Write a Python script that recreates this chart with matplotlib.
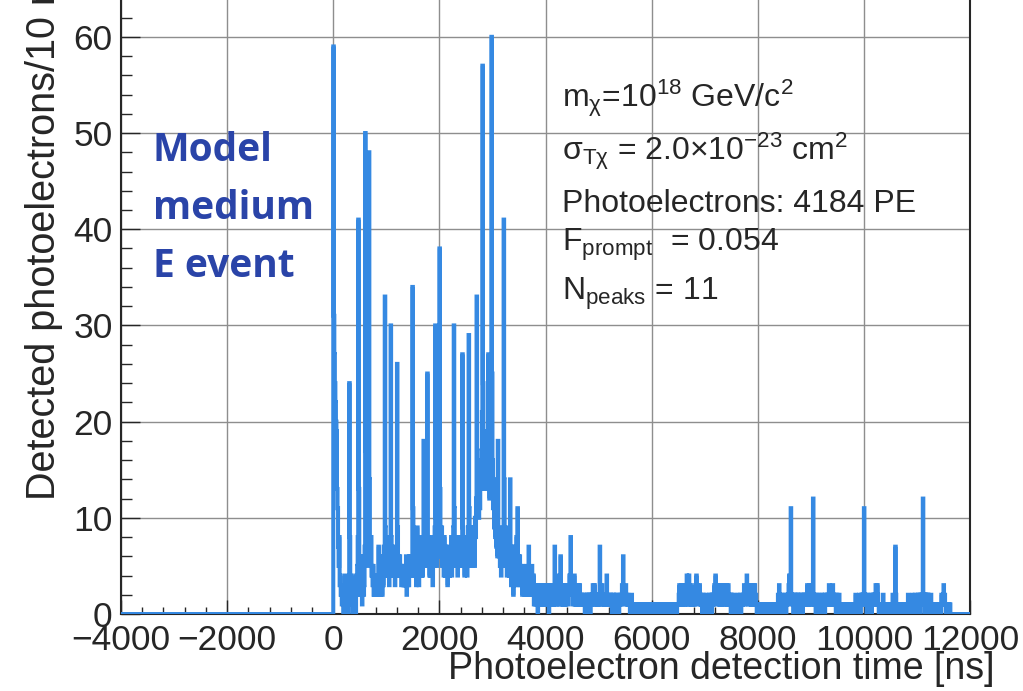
import numpy as np
import matplotlib
matplotlib.use("Agg")
import matplotlib.pyplot as plt
from matplotlib.ticker import MultipleLocator

# Detected photoelectrons per 10 ns bin, starting at t = 0 ns (one line = 100 ns)
early_counts = [
    59, 31, 27, 24, 22, 20, 19, 13, 11, 7,
    5, 8, 3, 4, 2, 3, 1, 3, 2, 0,
    2, 1, 4, 0, 2, 3, 1, 2, 0, 1,
    24, 8, 3, 2, 4, 1, 2, 0, 2, 3,
    1, 2, 0, 4, 2, 5, 8, 41, 13, 5,
    3, 6, 2, 4, 1, 3, 5, 2, 3, 7,
    50, 17, 10, 7, 12, 5, 9, 48, 14, 8,
    6, 8, 4, 5, 3, 5, 2, 3, 2, 2,
    2, 4, 2, 3, 4, 7, 2, 4, 2, 2,
    3, 6, 2, 5, 3, 7, 4, 33, 9, 5,
]

# 1000 - 3390 ns
mid_counts = [
    6, 4, 8, 5, 7, 3, 8, 4, 30, 8,
    5, 7, 4, 6, 4, 6, 3, 6, 4, 7,
    26, 9, 5, 6, 4, 6, 4, 5, 3, 3,
    5, 3, 5, 3, 4, 3, 4, 6, 2, 4,
    3, 5, 3, 5, 6, 4, 6, 4, 5, 34,
    11, 6, 4, 7, 4, 6, 3, 5, 9, 4,
    5, 3, 5, 8, 4, 6, 4, 7, 4, 6,
    18, 6, 7, 5, 6, 9, 5, 25, 8, 6,
    7, 4, 6, 4, 8, 5, 6, 3, 6, 5,
    6, 9, 30, 10, 8, 5, 9, 6, 10, 8,
    38, 13, 9, 6, 9, 5, 8, 7, 4, 8,
    5, 4, 7, 5, 6, 3, 7, 4, 5, 4,
    6, 5, 8, 4, 7, 6, 9, 30, 11, 6,
    7, 5, 6, 8, 4, 6, 7, 5, 8, 5,
    6, 8, 5, 27, 9, 6, 7, 4, 7, 6,
    8, 6, 4, 7, 9, 29, 11, 7, 5, 9,
    6, 8, 5, 9, 7, 8, 5, 10, 8, 12,
    33, 16, 12, 14, 10, 13, 11, 15, 13, 17,
    21, 57, 24, 16, 19, 13, 18, 14, 19, 14,
    15, 19, 27, 16, 12, 18, 13, 16, 60, 25,
    16, 11, 14, 9, 13, 8, 12, 7, 10, 6,
    18, 8, 6, 9, 5, 8, 4, 7, 5, 6,
    6, 41, 14, 8, 5, 9, 6, 4, 7, 5,
    8, 4, 6, 14, 5, 3, 7, 4, 6, 2,
]

# 3400 - 11690 ns
late_counts = [
    6, 4, 7, 3, 5, 8, 4, 11, 6, 3,
    5, 6, 3, 5, 4, 4, 2, 5, 3, 4,
    4, 2, 4, 3, 5, 2, 3, 2, 7, 4,
    3, 4, 2, 3, 5, 2, 2, 4, 1, 3,
    3, 1, 3, 2, 2, 0, 3, 1, 3, 1,
    2, 3, 1, 3, 1, 2, 1, 3, 1, 3,
    1, 2, 1, 3, 2, 3, 0, 2, 1, 3,
    2, 1, 3, 1, 2, 1, 3, 7, 2, 1,
    3, 1, 2, 4, 2, 3, 2, 1, 6, 2,
    1, 3, 2, 1, 3, 1, 2, 3, 1, 2,
    3, 2, 1, 3, 2, 4, 2, 8, 3, 2,
    3, 1, 3, 2, 4, 1, 2, 3, 1, 2,
    1, 3, 2, 1, 3, 1, 2, 1, 2, 1,
    1, 1, 2, 1, 0, 2, 1, 0, 2, 1,
    1, 2, 1, 2, 0, 2, 1, 1, 2, 3,
    2, 1, 3, 2, 1, 1, 2, 1, 1, 2,
    1, 2, 7, 3, 2, 1, 3, 2, 1, 1,
    2, 1, 1, 2, 1, 4, 2, 1, 1, 2,
    1, 1, 2, 1, 1, 0, 2, 1, 2, 1,
    1, 1, 0, 2, 1, 2, 1, 1, 0, 1,
    1, 2, 1, 2, 3, 2, 6, 2, 2, 1,
    2, 3, 2, 1, 1, 2, 1, 1, 1, 0,
    1, 1, 2, 1, 0, 1, 1, 1, 1, 0,
    1, 1, 0, 1, 1, 1, 0, 1, 1, 0,
    0, 1, 1, 0, 1, 1, 1, 0, 1, 1,
    1, 0, 1, 1, 0, 1, 1, 1, 0, 1,
    1, 1, 0, 1, 1, 1, 0, 1, 1, 1,
    0, 1, 1, 1, 0, 1, 1, 1, 0, 1,
    1, 1, 0, 1, 1, 1, 1, 0, 1, 1,
    1, 0, 1, 1, 0, 1, 1, 1, 0, 1,
    1, 1, 1, 0, 1, 1, 1, 0, 1, 1,
    1, 2, 3, 1, 2, 1, 3, 2, 1, 2,
    3, 1, 2, 3, 1, 2, 4, 2, 1, 2,
    4, 2, 1, 3, 2, 1, 2, 1, 2, 1,
    2, 1, 3, 2, 4, 2, 3, 2, 1, 2,
    3, 2, 1, 2, 1, 0, 1, 2, 1, 0,
    1, 0, 2, 1, 0, 1, 1, 0, 2, 1,
    1, 2, 1, 0, 2, 1, 2, 1, 3, 2,
    4, 2, 3, 2, 1, 3, 2, 1, 2, 1,
    2, 3, 1, 2, 3, 2, 1, 3, 2, 1,
    3, 2, 1, 2, 3, 1, 2, 1, 2, 0,
    1, 2, 1, 0, 1, 2, 1, 0, 1, 1,
    0, 1, 2, 1, 0, 1, 2, 1, 0, 1,
    1, 2, 1, 2, 3, 2, 1, 2, 3, 4,
    2, 3, 1, 2, 3, 2, 1, 2, 1, 2,
    2, 1, 3, 2, 3, 1, 2, 1, 0, 1,
    1, 0, 1, 0, 0, 1, 0, 1, 0, 0,
    1, 0, 0, 1, 0, 1, 0, 0, 1, 0,
    0, 1, 0, 0, 1, 0, 1, 0, 0, 1,
    1, 0, 1, 0, 0, 1, 1, 0, 2, 1,
    3, 1, 2, 1, 0, 1, 2, 1, 0, 1,
    1, 2, 1, 0, 1, 2, 1, 2, 3, 4,
    2, 3, 11, 2, 1, 2, 1, 0, 2, 1,
    1, 2, 1, 0, 2, 1, 2, 1, 0, 1,
    2, 1, 2, 1, 0, 1, 2, 1, 2, 1,
    2, 1, 2, 3, 1, 2, 1, 2, 3, 1,
    2, 1, 3, 2, 12, 2, 1, 2, 1, 0,
    1, 2, 1, 0, 1, 2, 1, 1, 0, 1,
    2, 1, 0, 1, 2, 1, 0, 2, 1, 1,
    1, 2, 1, 2, 3, 1, 2, 1, 2, 1,
    2, 3, 1, 2, 1, 2, 1, 0, 1, 2,
    1, 0, 1, 2, 1, 0, 1, 1, 0, 1,
    1, 0, 0, 1, 0, 1, 0, 0, 1, 0,
    1, 0, 1, 0, 0, 1, 0, 0, 1, 0,
    1, 1, 0, 1, 2, 1, 0, 1, 1, 0,
    1, 2, 1, 0, 1, 2, 1, 2, 1, 2,
    11, 2, 1, 2, 1, 0, 1, 2, 1, 1,
    0, 1, 2, 1, 0, 1, 2, 1, 2, 1,
    2, 1, 3, 2, 1, 3, 2, 1, 0, 1,
    1, 0, 1, 1, 0, 1, 2, 1, 0, 1,
    1, 0, 0, 0, 1, 1, 0, 0, 0, 1,
    1, 1, 0, 1, 2, 1, 0, 1, 2, 7,
    2, 1, 0, 1, 1, 0, 1, 1, 0, 1,
    1, 0, 1, 0, 0, 1, 0, 0, 1, 0,
    1, 0, 1, 2, 1, 0, 1, 1, 0, 1,
    1, 2, 1, 0, 1, 1, 2, 1, 0, 1,
    1, 2, 1, 2, 1, 0, 2, 1, 1, 2,
    1, 12, 2, 1, 0, 2, 1, 2, 1, 2,
    1, 2, 0, 1, 1, 0, 2, 1, 0, 1,
    1, 0, 0, 1, 0, 1, 0, 0, 1, 0,
    1, 0, 1, 1, 0, 1, 2, 1, 1, 2,
    3, 1, 2, 1, 0, 1, 1, 0, 1, 0,
    1, 0, 1, 0, 0, 0, 0, 0, 0, 0,
]

x_ticks = [-4000, -2000, 0, 2000, 4000, 6000, 8000, 10000, 12000]
y_ticks = [0, 10, 20, 30, 40, 50, 60]
event_label = ["Model", "medium", "E event"]

T_MIN, T_MAX, BIN_NS = -4000, 12000, 10
PROMPT_BINS = 9  # 0-90 ns prompt window

plt.rcParams["font.family"] = ["Liberation Sans", "DejaVu Sans"]
plt.rcParams["mathtext.fontset"] = "custom"
plt.rcParams["mathtext.rm"] = "Liberation Sans"
plt.rcParams["mathtext.it"] = "Liberation Sans:italic"
plt.rcParams["mathtext.bf"] = "Liberation Sans:bold"

hits = np.array(early_counts + mid_counts + late_counts, dtype=float)
edges = np.arange(T_MIN, T_MAX + BIN_NS, BIN_NS)
counts = np.zeros(len(edges) - 1)
start = int((0 - T_MIN) / BIN_NS)
counts[start:start + len(hits)] = hits

total_pe = int(hits.sum())
f_prompt = hits[:PROMPT_BINS].sum() / hits.sum()

INK = "#262626"

fig = plt.figure(figsize=(10.23, 6.91), dpi=100)
ax = fig.add_axes([0.1183, 0.1114, 0.8299, 0.891])

ax.stairs(counts, edges, color="#3589E2", lw=2.9, zorder=3)

ax.set_xlim(T_MIN, T_MAX)
ax.set_ylim(0, 64)
ax.set_xticks(x_ticks)
ax.set_yticks(y_ticks)
ax.xaxis.set_minor_locator(MultipleLocator(400))
ax.yaxis.set_minor_locator(MultipleLocator(2))
ax.grid(True, which="major", color="#8e8e8e", lw=1.0, zorder=1)

ax.tick_params(axis="both", which="both", direction="in", colors=INK,
               labelcolor=INK)
ax.tick_params(axis="y", which="major", length=14, width=1.0, labelsize=25.5, pad=6)
ax.tick_params(axis="y", which="minor", length=8, width=1.0)
ax.tick_params(axis="x", which="major", length=10, width=1.0, labelsize=25.5, pad=7)
ax.tick_params(axis="x", which="minor", length=5, width=1.0)

for side in ["left", "bottom", "right"]:
    ax.spines[side].set_linewidth(1.5)
    ax.spines[side].set_color(INK)
ax.spines["top"].set_visible(False)

ax.set_xlabel("Photoelectron detection time [ns]", fontsize=27, color=INK,
              ha="right", va="center")
ax.xaxis.set_label_coords(1.029, -0.089)
fig.text(44 / 1023, 1 - 500 / 691, "Detected photoelectrons/10 ns", rotation=90,
         fontsize=28.5, color=INK, ha="center", va="bottom")

stats = [
    (107, r"m$_{\mathrm{\chi}}$=10$^{\mathrm{18}}$ GeV/c$^{\mathrm{2}}$"),
    (160, r"$\mathrm{\sigma}_{\mathrm{T\chi}}$ = 2.0$\times$10$^{\mathrm{-23}}$ cm$^{\mathrm{2}}$"),
    (212, f"Photoelectrons: {total_pe} PE"),
    (251, r"F$_{\mathrm{prompt}}$  = " + f"{f_prompt:.3f}"),
    (300, r"N$_{\mathrm{peaks}}$ = 11"),
]
for y_px, txt in stats:
    fig.text(562 / 1023, 1 - y_px / 691, txt, fontsize=23, color=INK,
             ha="left", va="baseline")

for i, line in enumerate(event_label):
    fig.text(153 / 1023, 1 - (161 + 58 * i) / 691, line, fontsize=28,
             fontweight="bold", family="Open Sans", color="#2A44A8",
             ha="left", va="baseline")

fig.savefig("out.png", dpi=100, facecolor="white")
